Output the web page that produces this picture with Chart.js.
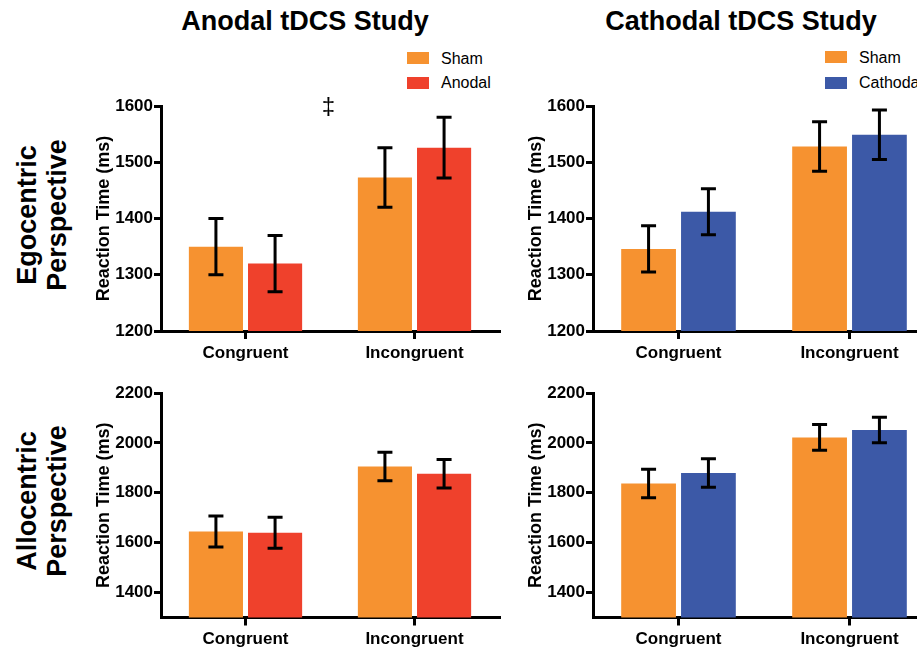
<!DOCTYPE html>
<html>
<head>
<meta charset="utf-8">
<script src="https://cdn.jsdelivr.net/npm/chart.js@4.4.1/dist/chart.umd.min.js"></script>
<style>
html,body{margin:0;padding:0;background:#fff;overflow:hidden;}
#wrap{position:relative;width:917px;height:648px;overflow:hidden;font-family:"Liberation Sans",Arial,Helvetica,sans-serif;color:#000;}
canvas{position:absolute;}
.title{position:absolute;top:8px;font-weight:bold;font-size:27px;line-height:27px;white-space:nowrap;transform:translateX(-50%);}
.row{position:absolute;font-weight:bold;font-size:27px;line-height:30px;text-align:center;white-space:nowrap;transform:translate(-50%,-50%) rotate(-90deg);}
.lg{position:absolute;width:22px;height:12px;}
.lt{position:absolute;font-size:16px;line-height:16px;white-space:nowrap;}
</style>
</head>
<body>
<div id="wrap">
  <div class="title" style="left:305px;">Anodal tDCS Study</div>
  <div class="title" style="left:741px;">Cathodal tDCS Study</div>
  <div class="row" style="left:42px;top:215px;">Egocentric<br>Perspective</div>
  <div class="row" style="left:42px;top:501px;">Allocentric<br>Perspective</div>

  <div class="lg" style="left:407px;top:52px;background:rgb(246,146,48);"></div>
  <div class="lt" style="left:441px;top:51px;">Sham</div>
  <div class="lg" style="left:407px;top:77px;background:rgb(239,65,44);"></div>
  <div class="lt" style="left:441px;top:75px;">Anodal</div>

  <div class="lg" style="left:825px;top:51px;background:rgb(246,146,48);"></div>
  <div class="lt" style="left:859px;top:50px;">Sham</div>
  <div class="lg" style="left:825px;top:77px;background:rgb(60,89,167);"></div>
  <div class="lt" style="left:859px;top:75px;">Cathodal</div>

  <canvas id="c1" width="425" height="275" style="left:85px;top:90px;width:425px;height:275px;"></canvas>
  <canvas id="c2" width="430" height="275" style="left:517px;top:90px;width:430px;height:275px;"></canvas>
  <canvas id="c3" width="425" height="271" style="left:85px;top:377px;width:425px;height:271px;"></canvas>
  <canvas id="c4" width="430" height="271" style="left:517px;top:377px;width:430px;height:271px;"></canvas>
</div>
<script>
// ---- data ----
const categories = ['Congruent', 'Incongruent'];

const egoAnodalSham     = [1350, 1473];
const egoAnodalShamErr  = [50, 53];
const egoAnodal         = [1320, 1526];
const egoAnodalErr      = [50, 54];

const egoCathSham       = [1346, 1528];
const egoCathShamErr    = [41, 44];
const egoCathodal       = [1412, 1549];
const egoCathodalErr    = [41, 44];

const alloAnodalSham    = [1645, 1905];
const alloAnodalShamErr = [62, 57];
const alloAnodal        = [1640, 1876];
const alloAnodalErr     = [62, 57];

const alloCathSham      = [1837, 2022];
const alloCathShamErr   = [57, 52];
const alloCathodal      = [1879, 2052];
const alloCathodalErr   = [57, 51];

const egoTicks  = [1200, 1300, 1400, 1500, 1600];
const alloTicks = [1400, 1600, 1800, 2000, 2200];

const ORANGE = 'rgb(246,146,48)';
const RED    = 'rgb(239,65,44)';
const BLUE   = 'rgb(60,89,167)';

Chart.defaults.font.family = '"Liberation Sans", Arial, Helvetica, sans-serif';
Chart.defaults.color = '#000';

const errorBars = {
  id: 'errorBars',
  afterDatasetsDraw(chart) {
    const ctx = chart.ctx, y = chart.scales.y;
    ctx.save();
    ctx.strokeStyle = '#000';
    ctx.lineWidth = 3;
    ctx.lineCap = 'butt';
    chart.data.datasets.forEach((ds, i) => {
      const meta = chart.getDatasetMeta(i);
      meta.data.forEach((bar, j) => {
        const v = ds.data[j], e = ds.errors[j];
        const yt = y.getPixelForValue(v + e), yb = y.getPixelForValue(v - e);
        const x = bar.x, hw = 7.5;
        ctx.beginPath();
        ctx.moveTo(x, yt); ctx.lineTo(x, yb);
        ctx.moveTo(x - hw, yt); ctx.lineTo(x + hw, yt);
        ctx.moveTo(x - hw, yb); ctx.lineTo(x + hw, yb);
        ctx.stroke();
      });
    });
    ctx.restore();
  }
};

const daggerMark = {
  id: 'daggerMark',
  afterDraw(chart) {
    const ctx = chart.ctx, xs = chart.scales.x;
    const x = (xs.getPixelForValue(0) + xs.getPixelForValue(1)) / 2 - 1.5;
    ctx.save();
    ctx.fillStyle = '#000';
    ctx.font = '24px "Liberation Sans", Arial, sans-serif';
    ctx.textAlign = 'center';
    ctx.textBaseline = 'alphabetic';
    ctx.fillText('\u2021', x, chart.chartArea.top + 8);
    ctx.restore();
  }
};

function makeChart(id, sets, yMin, yMax, ticks, padRight, xH, withDagger) {
  const plugins = [errorBars];
  if (withDagger) plugins.push(daggerMark);
  return new Chart(document.getElementById(id), {
    type: 'bar',
    data: {
      labels: categories,
      datasets: sets.map(s => ({
        label: s.label, data: s.data, errors: s.err,
        backgroundColor: s.color, borderWidth: 0,
        categoryPercentage: 0.7, barPercentage: 0.915
      }))
    },
    options: {
      responsive: false,
      animation: false,
      layout: { padding: { top: 16, right: padRight, left: 0, bottom: 0 } },
      plugins: { legend: { display: false }, tooltip: { enabled: false } },
      scales: {
        x: {
          grid: { display: true, offset: false, drawOnChartArea: false, drawTicks: true,
                  tickLength: 8, color: '#000', lineWidth: 3 },
          border: { display: true, color: '#000', width: 3 },
          ticks: { font: { size: 17, weight: 'bold' }, color: '#000', padding: 4, maxRotation: 0 },
          afterFit: s => { s.height = xH; }
        },
        y: {
          min: yMin, max: yMax,
          afterBuildTicks: s => { s.ticks = ticks.map(v => ({ value: v })); },
          grid: { display: true, drawOnChartArea: false, drawTicks: true,
                  tickLength: 7, color: '#000', lineWidth: 3 },
          border: { display: true, color: '#000', width: 3 },
          ticks: { font: { size: 17, weight: 'bold' }, color: '#000', padding: 1,
                   callback: v => String(v) },
          title: { display: true, text: 'Reaction Time (ms)', color: '#000',
                   font: { size: 18, weight: 'bold' }, padding: { top: 8, bottom: 0 } },
          afterFit: s => { s.width = 76; }
        }
      }
    },
    plugins
  });
}

makeChart('c1', [
  { label: 'Sham', data: egoAnodalSham, err: egoAnodalShamErr, color: ORANGE },
  { label: 'Anodal', data: egoAnodal, err: egoAnodalErr, color: RED }
], 1200, 1600, egoTicks, 11, 34, true);

makeChart('c2', [
  { label: 'Sham', data: egoCathSham, err: egoCathShamErr, color: ORANGE },
  { label: 'Cathodal', data: egoCathodal, err: egoCathodalErr, color: BLUE }
], 1200, 1600, egoTicks, 12, 34, false);

makeChart('c3', [
  { label: 'Sham', data: alloAnodalSham, err: alloAnodalShamErr, color: ORANGE },
  { label: 'Anodal', data: alloAnodal, err: alloAnodalErr, color: RED }
], 1300, 2200, alloTicks, 11, 30.5, false);

makeChart('c4', [
  { label: 'Sham', data: alloCathSham, err: alloCathShamErr, color: ORANGE },
  { label: 'Cathodal', data: alloCathodal, err: alloCathodalErr, color: BLUE }
], 1300, 2200, alloTicks, 12, 30.5, false);
</script>
</body>
</html>
